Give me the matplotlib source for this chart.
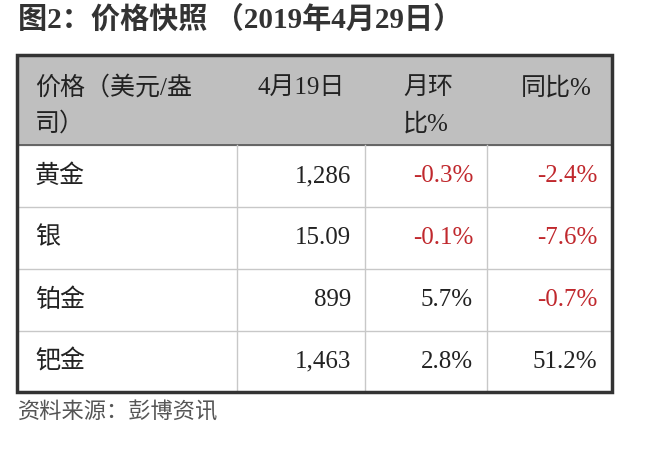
import matplotlib
matplotlib.use("Agg")
import matplotlib.pyplot as plt
from matplotlib.patches import Rectangle

title = "图2：价格快照 （2019年4月29日）"
headers = [["价格（美元/盎", "司）"], ["4月19日"], ["月环", "比%"], ["同比%"]]
metals = ["黄金", "银", "铂金", "钯金"]
prices = ["1,286", "15.09", "899", "1,463"]
mom = ["-0.3%", "-0.1%", "5.7%", "2.8%"]
yoy = ["-2.4%", "-7.6%", "-0.7%", "51.2%"]
source = "资料来源：彭博资讯"

FAM = ["Liberation Serif", "Noto Sans CJK SC"]
RED = "#c0282d"
DARK = "#222222"

fig = plt.figure(figsize=(6.65, 4.49), dpi=100)
ax = fig.add_axes([0, 0, 1, 1])
ax.set_xlim(0, 665); ax.set_ylim(449, 0); ax.axis("off")

ax.text(18, 20, title, fontsize=21, fontweight="bold", color="#333333",
        family=FAM, va="center", ha="left")

L, R, T, B = 17, 612, 55, 392
hdr_b = 145
rows = [145, 207, 269, 331, 392]
cols = [237, 365, 487]

ax.add_patch(Rectangle((L, T), R - L, hdr_b - T, color="#bfbfbf", zorder=0))
for y in rows[1:-1]:
    ax.plot([L, R], [y, y], color="#c8c8c8", lw=1)
ax.plot([L, R], [hdr_b, hdr_b], color="#555555", lw=1.2)
for x in cols:
    ax.plot([x, x], [hdr_b, B], color="#c8c8c8", lw=1)
ax.add_patch(Rectangle((L, T), R - L, B - T, fill=False, ec="#333333", lw=2.5, zorder=5))

FS = 18
ax.text(35, 88, headers[0][0], fontsize=FS, family=FAM, color=DARK, va="center")
ax.text(35, 124, headers[0][1], fontsize=FS, family=FAM, color=DARK, va="center")
ax.text(345, 88, headers[1][0], fontsize=FS, family=FAM, color=DARK, va="center", ha="right")
ax.text(403, 88, headers[2][0], fontsize=FS, family=FAM, color=DARK, va="center")
ax.text(403, 124, headers[2][1], fontsize=FS, family=FAM, color=DARK, va="center")
ax.text(592, 88, headers[3][0], fontsize=FS, family=FAM, color=DARK, va="center", ha="right")

def col(v):
    return RED if v.startswith("-") else DARK

for i in range(len(metals)):
    yc = (rows[i] + rows[i + 1]) / 2
    ax.text(35, yc, metals[i], fontsize=FS, family=FAM, color=DARK, va="center")
    ax.text(351, yc, prices[i], fontsize=FS, family=FAM, color=DARK, va="center", ha="right")
    ax.text(473, yc, mom[i], fontsize=FS, family=FAM, color=col(mom[i]), va="center", ha="right")
    ax.text(597, yc, yoy[i], fontsize=FS, family=FAM, color=col(yoy[i]), va="center", ha="right")

ax.text(18, 413, source, fontsize=16, family=FAM, style="italic", color="#555555", va="center")

fig.savefig("out.png", dpi=100)
